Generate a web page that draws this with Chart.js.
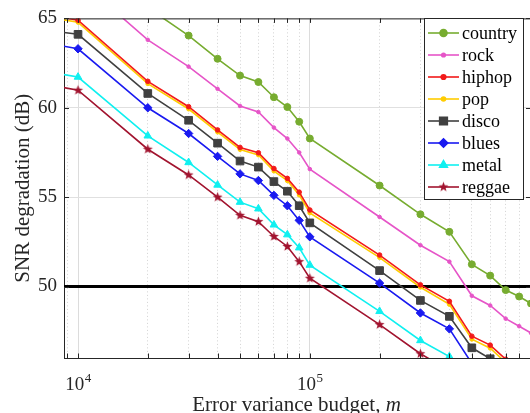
<!DOCTYPE html>
<html><head><meta charset="utf-8">
<script src="https://cdn.jsdelivr.net/npm/chart.js@4.4.1/dist/chart.umd.min.js"></script>
<style>
html,body{margin:0;padding:0;overflow:hidden;background:#fff;width:530px;height:413px}
#wrap{position:absolute;left:0;top:0;width:540px;height:413px}
</style>
</head><body><div id="wrap"><canvas id="c" width="540" height="413"></canvas></div>
<script>
// ---------- data ----------
const budgets = [5e3, 1e4, 2e4, 3e4, 4e4, 5e4, 6e4, 7e4, 8e4, 9e4, 1e5, 2e5, 3e5, 4e5, 5e5, 6e5, 7e5, 8e5, 9e5];
const country = [71.5, 68.9, 65.6, 64.04, 62.74, 61.8, 61.44, 60.59, 60.04, 59.22, 58.28, 55.65, 54.04, 53.06, 51.24, 50.61, 49.8, 49.44, 49.05];
const rock    = [69.5, 67.2, 63.8, 62.3, 61.06, 60.1, 59.76, 58.89, 58.28, 57.5, 56.57, 53.89, 52.31, 51.39, 49.48, 48.94, 48.2, 47.78, 47.4];
const hiphop  = [65.6, 64.9, 61.48, 60.06, 58.76, 57.78, 57.48, 56.6, 56.05, 55.28, 54.28, 51.76, 50.09, 49.17, 47.22, 46.72, 45.93, 45.5, 45.1];
const pop     = [65.45, 64.78, 61.35, 59.93, 58.64, 57.66, 57.36, 56.46, 55.92, 55.12, 54.12, 51.62, 49.96, 49.0, 47.05, 46.55, 45.75, 45.3, 44.9];
const disco   = [64.6, 64.11, 60.8, 59.3, 58.02, 57.02, 56.68, 55.87, 55.33, 54.52, 53.56, 50.89, 49.22, 48.33, 46.57, 45.96, 45.3, 44.9, 44.5];
const blues   = [64.0, 63.3, 60.0, 58.56, 57.28, 56.3, 55.93, 55.1, 54.52, 53.7, 52.78, 50.19, 48.52, 47.63, 45.7, 45.2, 44.6, 44.2, 43.8];
const metal   = [62.4, 61.72, 58.43, 56.94, 55.68, 54.72, 54.35, 53.45, 52.9, 52.17, 51.2, 48.61, 46.98, 46.08, 44.3, 43.8, 43.2, 42.8, 42.4];
const reggae  = [61.7, 60.98, 57.68, 56.24, 55.0, 53.98, 53.63, 52.8, 52.24, 51.39, 50.46, 47.87, 46.24, 45.3, 43.6, 43.1, 42.5, 42.1, 41.7];
const seriesNames = ['country', 'rock', 'hiphop', 'pop', 'disco', 'blues', 'metal', 'reggae'];
const thresholdDb = [50, 50];
const yTicks = [50, 55, 60, 65];
const xGridValues = [9e3, 1e4, 2e4, 3e4, 4e4, 5e4, 6e4, 7e4, 8e4, 9e4, 1e5, 2e5, 3e5, 4e5, 5e5, 6e5, 7e5, 8e5, 9e5];
const xMajorValues = [1e4, 1e5];
const xLabelValues = [1e4, 1e5];
const xLabelBase = ['10', '10'];
const xLabelExponents = ['4', '5'];
const xRange = [8700, 9e5];
const yRange = [46, 65];
const yTitle = 'SNR degradation (dB)';
const xTitleText = 'Error variance budget, ';
const xTitleVar = 'm';

// ---------- styles ----------
function starCanvas(color, r){
  const s = Math.ceil(r*2+2), c = document.createElement('canvas');
  c.width = s; c.height = s;
  const g = c.getContext('2d');
  g.fillStyle = color; g.beginPath();
  for (let i=0;i<10;i++){
    const rr = i%2===0 ? r : r*0.42;
    const a = -Math.PI/2 + i*Math.PI/5;
    const px = s/2 + rr*Math.cos(a), py = s/2 + rr*Math.sin(a);
    if(i===0) g.moveTo(px,py); else g.lineTo(px,py);
  }
  g.closePath(); g.fill();
  return c;
}
const styles = {
  country: {color:'#77AC30', pointStyle:'circle', radius:3.5},
  rock:    {color:'#E655C8', pointStyle:'circle', radius:1.8},
  hiphop:  {color:'#F21A1A', pointStyle:'circle', radius:2.3},
  pop:     {color:'#FFCC00', pointStyle:'circle', radius:2},
  disco:   {color:'#404040', pointStyle:'rect',   radius:5.4},
  blues:   {color:'#1A1AF0', pointStyle:'rectRot',radius:4.2},
  metal:   {color:'#10F0F0', pointStyle:'triangle',radius:4.4},
  reggae:  {color:'#A2142F', pointStyle:starCanvas('#A2142F',5.2), radius:5}
};
const seriesData = {country, rock, hiphop, pop, disco, blues, metal, reggae};

const datasets = seriesNames.map(n => ({
  label: n,
  data: budgets.map((b,i)=>({x:b, y:seriesData[n][i]})),
  borderColor: styles[n].color,
  backgroundColor: styles[n].color,
  pointBackgroundColor: styles[n].color,
  pointBorderColor: styles[n].color,
  pointBorderWidth: 1,
  pointStyle: styles[n].pointStyle,
  pointRadius: styles[n].radius,
  borderWidth: 1.6,
  tension: 0,
  clip: 0
}));
datasets.push({
  label: 'threshold',
  data: xRange.map((x,i)=>({x:x, y:thresholdDb[i]})),
  borderColor: '#000', borderWidth: 3.2, pointRadius: 0, clip: 0
});

const FONT = "'Liberation Serif', 'Times New Roman', serif";
const AXC = '#262626';

const decor = {
  id: 'decor',
  afterDatasetsDraw(chart){
    const {ctx, chartArea:a, scales:{x, y}} = chart;
    ctx.save();
    ctx.strokeStyle = AXC; ctx.lineWidth = 1;
    ctx.beginPath();
    ctx.moveTo(a.left, a.top+0.5); ctx.lineTo(a.right, a.top+0.5);
    ctx.moveTo(a.right-0.5, a.top); ctx.lineTo(a.right-0.5, a.bottom);
    xGridValues.forEach(v=>{
      const px = Math.round(x.getPixelForValue(v))+0.5;
      ctx.moveTo(px, a.bottom); ctx.lineTo(px, a.bottom-4.5);
      ctx.moveTo(px, a.top); ctx.lineTo(px, a.top+4.5);
    });
    yTicks.forEach(v=>{
      const py = Math.round(y.getPixelForValue(v))+0.5;
      ctx.moveTo(a.left, py); ctx.lineTo(a.left+5, py);
      ctx.moveTo(a.right, py); ctx.lineTo(a.right-5, py);
    });
    ctx.stroke();
    ctx.restore();
  },
  afterDraw(chart){
    const {ctx, chartArea:a, scales:{x, y}} = chart;
    ctx.save();
    ctx.fillStyle = AXC;
    // x tick labels (10^n)
    xLabelValues.forEach((v,i)=>{
      const px = x.getPixelForValue(v);
      ctx.font = '19px ' + FONT;
      const wb = ctx.measureText(xLabelBase[i]).width;
      ctx.font = '13px ' + FONT;
      const we = ctx.measureText(xLabelExponents[i]).width;
      const sx = px - (wb+we)/2;
      ctx.textBaseline = 'alphabetic'; ctx.textAlign = 'left';
      ctx.font = '19px ' + FONT;
      ctx.fillText(xLabelBase[i], sx, 390);
      ctx.font = '13px ' + FONT;
      ctx.fillText(xLabelExponents[i], sx+wb+0.5, 382);
    });
    // y title
    ctx.save();
    ctx.translate(23, (a.top+a.bottom)/2);
    ctx.rotate(-Math.PI/2);
    ctx.font = '21px ' + FONT;
    ctx.textAlign = 'center'; ctx.textBaseline = 'middle';
    ctx.fillText(yTitle, 0, 0);
    ctx.restore();
    // x title
    ctx.font = '21px ' + FONT;
    const w1 = ctx.measureText(xTitleText).width;
    ctx.font = 'italic 21px ' + FONT;
    const w2 = ctx.measureText(xTitleVar).width;
    const cx = (a.left+a.right)/2 - 1;
    let sx = cx - (w1+w2)/2;
    ctx.textAlign = 'left'; ctx.textBaseline = 'alphabetic';
    ctx.font = '21px ' + FONT;
    ctx.fillText(xTitleText, sx, 411);
    ctx.font = 'italic 21px ' + FONT;
    ctx.fillText(xTitleVar, sx+w1, 411);
    // legend
    const L = 424.5, T = 18.5, R = 523.5, B = 199.5;
    ctx.fillStyle = '#fff';
    ctx.fillRect(L, T, R-L, B-T);
    ctx.strokeStyle = AXC; ctx.lineWidth = 1;
    ctx.strokeRect(L, T, R-L, B-T);
    seriesNames.forEach((n,i)=>{
      const ry = 33 + i*22;
      const st = styles[n];
      ctx.strokeStyle = st.color; ctx.lineWidth = 1.6;
      ctx.beginPath(); ctx.moveTo(428, ry); ctx.lineTo(459, ry); ctx.stroke();
      ctx.fillStyle = st.color;
      Chart.helpers.drawPoint(ctx, {pointStyle: st.pointStyle, radius: st.radius, rotation: 0, borderWidth: 1}, 443.5, ry);
      ctx.fillStyle = '#000';
      ctx.font = '18px ' + FONT;
      ctx.textAlign = 'left'; ctx.textBaseline = 'middle';
      ctx.fillText(n, 462, ry+1);
    });
    ctx.restore();
  }
};

new Chart(document.getElementById('c'), {
  type: 'line',
  data: { datasets },
  options: {
    responsive: false,
    devicePixelRatio: 1,
    animation: false,
    layout: { padding: { left: 0, right: 9, top: 15, bottom: 0 } },
    plugins: { legend: { display: false }, tooltip: { enabled: false } },
    scales: {
      x: {
        type: 'logarithmic',
        min: xRange[0], max: xRange[1],
        afterBuildTicks: s => { s.ticks = xGridValues.map(v=>({value:v})); },
        afterFit: s => { s.height = 55; },
        ticks: { display: false },
        grid: {
          drawTicks: false,
          color: ctx => (ctx.tick && xMajorValues.includes(ctx.tick.value)) ? '#dcdcdc' : '#d2d2d2',
          lineWidth: 1
        },
        border: {
          display: true, color: AXC, width: 1,
          dash: ctx => (ctx.tick && !xMajorValues.includes(ctx.tick.value)) ? [1, 2.5] : []
        }
      },
      y: {
        type: 'linear',
        min: yRange[0], max: yRange[1],
        afterBuildTicks: s => { s.ticks = yTicks.map(v=>({value:v})); },
        afterFit: s => { s.width = 64; },
        ticks: { color: AXC, padding: 7, font: { family: FONT, size: 19 } },
        grid: { drawTicks: false, color: '#e0e0e0', lineWidth: 1 },
        border: { display: true, color: AXC, width: 1 }
      }
    }
  },
  plugins: [decor]
});
</script>
</body></html>
